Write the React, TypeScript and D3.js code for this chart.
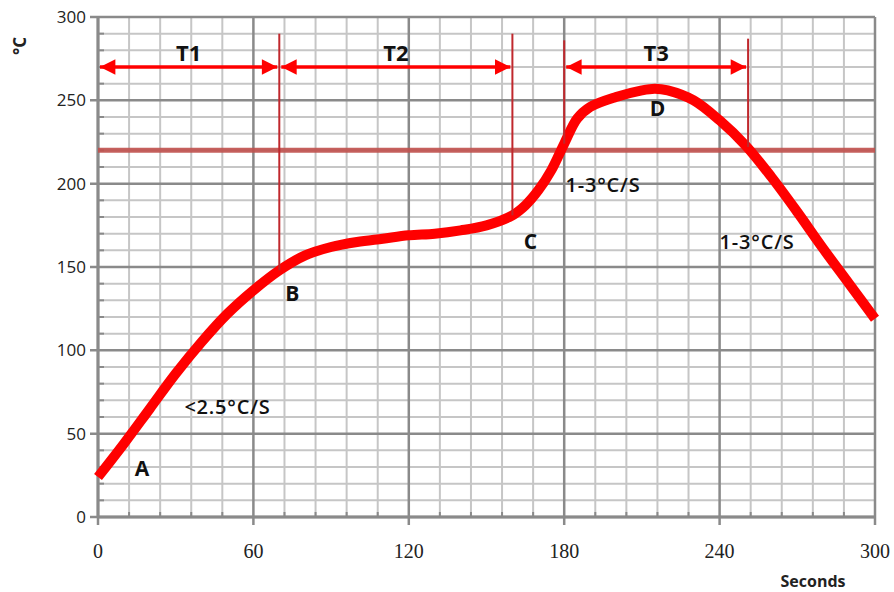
import React, { useEffect, useRef } from 'react'
import * as d3 from 'd3'

// reflow profile (seconds, °C)
const seconds = [0, 10, 20, 30, 40, 50, 60, 70, 80, 90, 100, 110, 120, 130, 140, 150, 160, 165, 170, 175, 180, 185, 190, 200, 210, 215, 220, 230, 240, 250, 260, 270, 280, 290, 300]
const temps = [24, 44, 65, 86, 105, 122, 136, 148, 157, 162, 165, 167, 169, 170, 172, 175, 181, 187, 196, 208, 224, 239, 246, 252, 256, 257, 256, 250, 238, 223, 204, 183, 161, 140, 119]

const xTicks = [0, 60, 120, 180, 240, 300]
const yTicks = [0, 50, 100, 150, 200, 250, 300]

const liquidus = 220
// zone markers: [time, top temp, bottom temp]
const markers = [
  [70, 290, 148],
  [160, 290, 181],
  [180, 286, 224],
  [251, 287, 222],
]
const zones = [
  { name: 'T1', from: 0, to: 70 },
  { name: 'T2', from: 70, to: 160 },
  { name: 'T3', from: 180, to: 251 },
]
const zoneY = 270
const points = [
  { name: 'A', t: 17, c: 29 },
  { name: 'B', t: 75, c: 134 },
  { name: 'C', t: 167, c: 165 },
  { name: 'D', t: 216, c: 245 },
]
const rates = [
  { text: '<2.5°C/S', t: 50, c: 66, anchor: 'middle' },
  { text: '1-3°C/S', t: 180.5, c: 199, anchor: 'start' },
  { text: '1-3°C/S', t: 240, c: 165, anchor: 'start' },
]

export default function App() {
  const ref = useRef<SVGSVGElement>(null)

  useEffect(() => {
    const width = 894
    const height = 592
    const svg = d3.select(ref.current)
    svg.selectAll('*').remove()

    const x = d3.scaleLinear().domain([0, 300]).range([98, 875])
    const y = d3.scaleLinear().domain([0, 300]).range([517, 17])

    const grid = svg.append('g')
    // minor grid
    grid.selectAll('line.mv')
      .data(d3.range(0, 301, 12).filter(v => v % 60 !== 0))
      .join('line')
        .attr('x1', d => x(d)).attr('x2', d => x(d))
        .attr('y1', y(0)).attr('y2', y(300))
        .attr('stroke', '#c6c6c6').attr('stroke-width', 2)
    grid.selectAll('line.mh')
      .data(d3.range(0, 301, 10).filter(v => v % 50 !== 0))
      .join('line')
        .attr('x1', x(0)).attr('x2', x(300))
        .attr('y1', d => y(d)).attr('y2', d => y(d))
        .attr('stroke', '#c6c6c6').attr('stroke-width', 2)
    // major grid
    grid.append('g').selectAll('line')
      .data(xTicks)
      .join('line')
        .attr('x1', d => x(d)).attr('x2', d => x(d))
        .attr('y1', y(0) + 8).attr('y2', y(300))
        .attr('stroke', '#8a8a8a').attr('stroke-width', 2.5)
    grid.append('g').selectAll('line')
      .data(yTicks)
      .join('line')
        .attr('x1', x(0) - 8).attr('x2', x(300))
        .attr('y1', d => y(d)).attr('y2', d => y(d))
        .attr('stroke', '#8a8a8a').attr('stroke-width', 2.5)
    // minor ticks on axes
    grid.append('g').selectAll('line')
      .data(d3.range(0, 301, 10).filter(v => v % 50 !== 0))
      .join('line')
        .attr('x1', x(0)).attr('x2', x(0) + 6)
        .attr('y1', d => y(d)).attr('y2', d => y(d))
        .attr('stroke', '#8a8a8a').attr('stroke-width', 2)
    grid.append('g').selectAll('line')
      .data(d3.range(0, 301, 12).filter(v => v % 60 !== 0))
      .join('line')
        .attr('x1', d => x(d)).attr('x2', d => x(d))
        .attr('y1', y(0)).attr('y2', y(0) - 5)
        .attr('stroke', '#8a8a8a').attr('stroke-width', 2)
    // axis lines
    grid.append('line')
      .attr('x1', x(0)).attr('x2', x(300)).attr('y1', y(0)).attr('y2', y(0))
      .attr('stroke', '#8a8a8a').attr('stroke-width', 3)
    grid.append('line')
      .attr('x1', x(0)).attr('x2', x(0)).attr('y1', y(0)).attr('y2', y(300))
      .attr('stroke', '#8a8a8a').attr('stroke-width', 3)

    // tick labels
    svg.append('g')
      .attr('font-family', "'Open Sans', sans-serif")
      .attr('font-size', 17)
      .attr('fill', '#222')
      .selectAll('text')
      .data(yTicks)
      .join('text')
        .attr('x', x(0) - 12)
        .attr('y', d => y(d))
        .attr('dy', '0.35em')
        .attr('text-anchor', 'end')
        .text(d => d)
    svg.append('g')
      .attr('font-family', "'Liberation Serif', serif")
      .attr('font-size', 20)
      .attr('fill', '#222')
      .selectAll('text')
      .data(xTicks)
      .join('text')
        .attr('x', d => x(d))
        .attr('y', 558)
        .attr('text-anchor', 'middle')
        .text(d => d)

    svg.append('text')
      .attr('x', 813).attr('y', 587)
      .attr('text-anchor', 'middle')
      .attr('font-family', "'Open Sans', sans-serif")
      .attr('font-weight', 'bold')
      .attr('font-size', 16)
      .attr('fill', '#222')
      .text('Seconds')
    svg.append('text')
      .attr('transform', 'translate(26,46) rotate(-90)')
      .attr('text-anchor', 'middle')
      .attr('font-family', "'Open Sans', sans-serif")
      .attr('font-weight', 'bold')
      .attr('font-size', 17)
      .attr('fill', '#222')
      .text('°C')

    // liquidus line
    svg.append('line')
      .attr('x1', x(0)).attr('x2', x(300))
      .attr('y1', y(liquidus)).attr('y2', y(liquidus))
      .attr('stroke', '#c0504d').attr('stroke-opacity', 0.9).attr('stroke-width', 5)

    // profile curve
    const data = seconds.map((s, i) => [s, temps[i]] as [number, number])
    const line = d3.line<[number, number]>()
      .x(d => x(d[0])).y(d => y(d[1]))
      .curve(d3.curveCatmullRom.alpha(0.5))
    svg.append('path')
      .datum(data)
      .attr('d', line)
      .attr('fill', 'none')
      .attr('stroke', '#ff0000')
      .attr('stroke-width', 10)
      .attr('stroke-linejoin', 'round')

    // zone markers
    svg.append('g').selectAll('line')
      .data(markers)
      .join('line')
        .attr('x1', d => x(d[0])).attr('x2', d => x(d[0]))
        .attr('y1', d => y(d[1])).attr('y2', d => y(d[2]))
        .attr('stroke', '#c0282d').attr('stroke-width', 2)

    const defs = svg.append('defs')
    defs.append('marker')
      .attr('id', 'ah')
      .attr('viewBox', '0 0 10 10')
      .attr('refX', 10).attr('refY', 5)
      .attr('markerWidth', 5).attr('markerHeight', 4.4)
      .attr('markerUnits', 'strokeWidth')
      .attr('orient', 'auto-start-reverse')
      .append('path')
        .attr('d', 'M0,0 L10,5 L0,10 Z')
        .attr('fill', '#ff0000')

    svg.append('g').selectAll('line')
      .data(zones)
      .join('line')
        .attr('x1', d => x(d.from) + 2).attr('x2', d => x(d.to) - 2)
        .attr('y1', y(zoneY)).attr('y2', y(zoneY))
        .attr('stroke', '#ff0000').attr('stroke-width', 3.5)
        .attr('marker-start', 'url(#ah)')
        .attr('marker-end', 'url(#ah)')

    svg.append('g')
      .attr('font-family', "'Open Sans', sans-serif")
      .attr('font-weight', 'bold')
      .attr('font-size', 22)
      .attr('fill', '#111')
      .selectAll('text')
      .data(zones)
      .join('text')
        .attr('x', d => x((d.from + d.to) / 2))
        .attr('y', y(278))
        .attr('dy', '0.35em')
        .attr('text-anchor', 'middle')
        .text(d => d.name)

    svg.append('g')
      .attr('font-family', "'Open Sans', sans-serif")
      .attr('font-weight', 'bold')
      .attr('font-size', 21)
      .attr('fill', '#111')
      .selectAll('text')
      .data(points)
      .join('text')
        .attr('x', d => x(d.t))
        .attr('y', d => y(d.c))
        .attr('dy', '0.35em')
        .attr('text-anchor', 'middle')
        .text(d => d.name)

    svg.append('g')
      .attr('font-family', "'Open Sans', sans-serif")
      .attr('font-weight', 600)
      .attr('font-size', 20)
      .attr('letter-spacing', 0.8)
      .attr('fill', '#111')
      .selectAll('text')
      .data(rates)
      .join('text')
        .attr('x', d => x(d.t))
        .attr('y', d => y(d.c))
        .attr('dy', '0.35em')
        .attr('text-anchor', d => d.anchor)
        .text(d => d.text)

    svg.attr('width', width).attr('height', height)
  }, [])

  return (
    <svg ref={ref} width={894} height={592}
      style={{ position: 'absolute', left: 0, top: 0, background: '#fff' }} />
  )
}
